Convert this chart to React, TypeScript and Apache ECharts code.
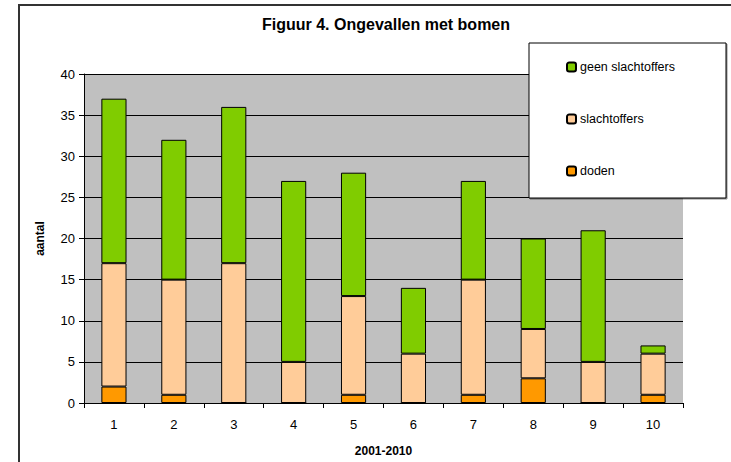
import React, { useEffect, useRef } from "react";
import * as echarts from "echarts";

const categories = ["1", "2", "3", "4", "5", "6", "7", "8", "9", "10"];
const doden = [2, 1, 0, 0, 1, 0, 1, 3, 0, 1];
const slachtoffers = [15, 14, 17, 5, 12, 6, 14, 6, 5, 5];
const geenSlachtoffers = [20, 17, 19, 22, 15, 8, 12, 11, 16, 1];
const titleText = "Figuur 4. Ongevallen met bomen";
const yName = "aantal";
const xName = "2001-2010";

const FONT = "'Liberation Sans', Arial, sans-serif";

export default function App() {
  const ref = useRef<HTMLDivElement>(null);
  useEffect(() => {
    if (!ref.current) return;
    const chart = echarts.init(ref.current, null, { renderer: "svg" });
    const barStyle = (color: string) => ({
      color,
      borderColor: "#000",
      borderWidth: 1,
    });
    chart.setOption({
      animation: false,
      textStyle: { fontFamily: FONT },
      title: {
        text: titleText,
        left: 257,
        top: 11,
        textStyle: { fontFamily: FONT, fontSize: 16, fontWeight: "bold", color: "#000" },
      },
      graphic: [
        {
          type: "rect",
          z: 0,
          shape: { x: 19, y: 5, width: 740, height: 500 },
          style: { fill: "none", stroke: "#333", lineWidth: 2 },
          silent: true,
        },
        {
          type: "rect",
          z: 10,
          shape: { x: 529, y: 43, width: 197, height: 155 },
          style: {
            fill: "#fff",
            stroke: "#000",
            lineWidth: 1,
            shadowColor: "rgba(0,0,0,0.45)",
            shadowOffsetX: 1,
            shadowOffsetY: 1,
            shadowBlur: 0,
          },
          silent: true,
        },
      ],
      legend: {
        z: 20,
        orient: "vertical",
        left: 566,
        top: 60,
        itemWidth: 9,
        itemHeight: 9,
        itemGap: 38,
        padding: 0,
        data: ["geen slachtoffers", "slachtoffers", "doden"],
        textStyle: { fontFamily: FONT, fontSize: 12.5, color: "#000", lineHeight: 14, padding: [0, 0, 0, -1] },
      },
      grid: {
        left: 84,
        top: 74,
        right: 48,
        bottom: 59,
        show: true,
        backgroundColor: "#C0C0C0",
        borderWidth: 0,
      },
      xAxis: {
        type: "category",
        data: categories,
        name: xName,
        nameLocation: "middle",
        nameGap: 42,
        nameTextStyle: { fontFamily: FONT, fontSize: 12, fontWeight: "bold", color: "#000" },
        axisLine: { lineStyle: { color: "#000", width: 1 } },
        axisTick: { show: true, alignWithLabel: false, length: 5, lineStyle: { color: "#000" } },
        axisLabel: { fontFamily: FONT, fontSize: 13, color: "#000", margin: 15 },
      },
      yAxis: {
        type: "value",
        min: 0,
        max: 40,
        interval: 5,
        name: yName,
        nameLocation: "middle",
        nameGap: 38,
        nameTextStyle: { fontFamily: FONT, fontSize: 12, fontWeight: "bold", color: "#000" },
        axisLine: { show: true, lineStyle: { color: "#000", width: 1 } },
        axisTick: { show: true, length: 5, lineStyle: { color: "#000" } },
        axisLabel: { fontFamily: FONT, fontSize: 13, color: "#000", margin: 9 },
        splitLine: { show: true, lineStyle: { color: "#000", width: 1 } },
      },
      series: [
        {
          name: "doden",
          type: "bar",
          stack: "total",
          data: doden,
          barWidth: "42%",
          itemStyle: barStyle("#FF9900"),
        },
        {
          name: "slachtoffers",
          type: "bar",
          stack: "total",
          data: slachtoffers,
          barWidth: "42%",
          itemStyle: barStyle("#FFCC99"),
        },
        {
          name: "geen slachtoffers",
          type: "bar",
          stack: "total",
          data: geenSlachtoffers,
          barWidth: "42%",
          itemStyle: barStyle("#80CC00"),
        },
      ],
    });
    return () => chart.dispose();
  }, []);
  return (
    <div
      ref={ref}
      style={{ position: "absolute", left: 0, top: 0, width: 731, height: 462, background: "#fff" }}
    />
  );
}
